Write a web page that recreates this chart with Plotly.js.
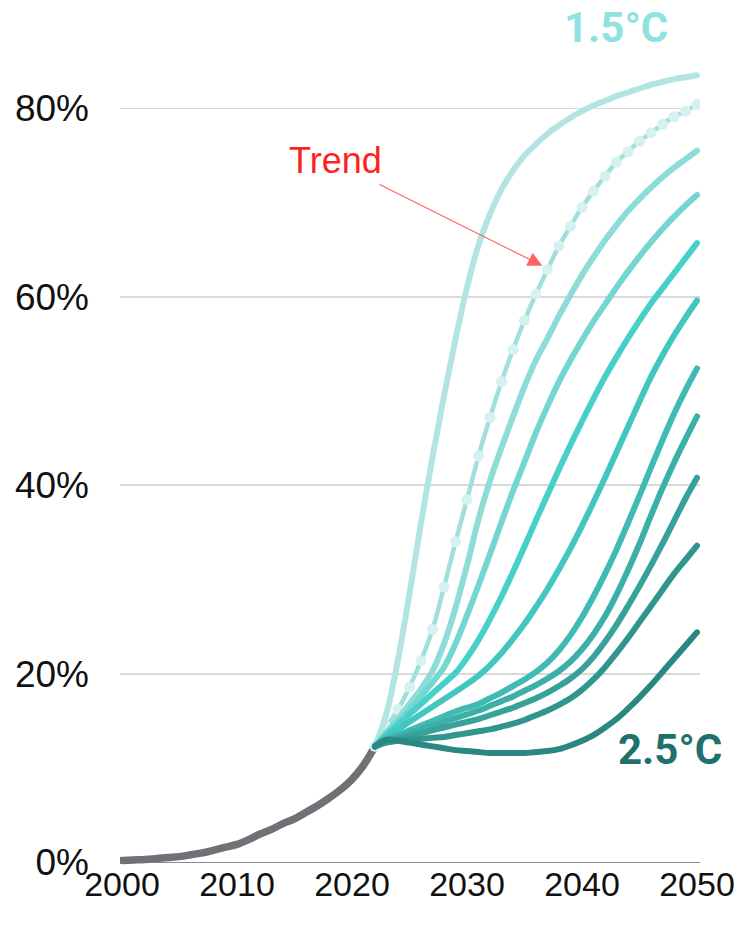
<!DOCTYPE html>
<html>
<head>
<meta charset="utf-8">
<script src="https://cdn.plot.ly/plotly-3.0.1.min.js"></script>
<style>
html,body{margin:0;padding:0;background:#fff;}
#chart{width:738px;height:928px;}
.scatterlayer path.js-line{stroke-linecap:round;stroke-linejoin:round;}
</style>
</head>
<body>
<div id="chart"></div>
<script>
// ---- data ----
const histYears = [2000,2001,2002,2003,2004,2005,2006,2007,2008,2009,2010,2011,2012,2013,2014,2015,2016,2017,2018,2019,2020,2021,2022];
const histValues = [0.2,0.25,0.3,0.4,0.5,0.6,0.8,1.0,1.3,1.6,1.9,2.4,3.0,3.5,4.1,4.6,5.3,6.0,6.8,7.7,8.8,10.3,12.3];

const projYears = [2022,2023,2024,2025,2026,2027,2028,2029,2030,2031,2032,2033,2034,2035,2036,2037,2038,2039,2040,2041,2042,2043,2044,2045,2046,2047,2048,2049,2050];

const trendValues = [12.3,14.4,16.2,18.6,21.4,24.7,29.2,34.0,38.5,43.1,47.2,51.0,54.4,57.5,60.3,62.9,65.4,67.5,69.5,71.2,72.8,74.3,75.4,76.5,77.4,78.3,79.1,79.7,80.4];

const scenario1 = [12.3,15.8,21.5,28.5,36,43,49.5,55.5,61,65.5,68.8,71.4,73.4,75,76.2,77.3,78.2,79,79.7,80.3,80.8,81.3,81.7,82.1,82.5,82.8,83.1,83.3,83.5];
const scenario2 = [12.3,13.8,15.2,16.8,18.4,20.3,23.2,27,31.5,36.4,40.5,44,47.3,50.5,53.3,55.6,58,60.2,62.3,64.2,66,67.6,69.1,70.4,71.6,72.7,73.7,74.6,75.5];
const scenario3 = [12.3,13.6,14.9,16.2,17.6,19.1,20.7,23.2,26.2,29.4,32.7,36.1,39.4,42.5,45.6,48.4,51.0,53.3,55.4,57.4,59.2,61.0,62.7,64.3,65.8,67.2,68.5,69.7,70.8];
const scenario4 = [12.3,13.5,14.6,15.7,16.8,17.9,19.0,20.1,21.7,23.6,25.8,28.2,30.8,33.5,36.3,39.0,41.7,44.3,46.8,49.2,51.5,53.6,55.6,57.5,59.3,60.9,62.5,64.1,65.7];
const scenario5 = [12.3,13.3,14.1,14.9,15.7,16.5,17.3,18.1,18.9,19.8,20.9,22.2,23.7,25.3,27.1,29.0,31.1,33.3,35.7,38.2,40.8,43.5,46.2,48.9,51.5,53.8,55.9,57.8,59.6];
const scenario6 = [12.3,13.0,13.5,14.0,14.5,15.0,15.5,16.0,16.4,16.8,17.4,18.0,18.7,19.4,20.2,21.2,22.5,24.1,26.0,28.2,30.6,33.2,36.0,38.9,41.9,44.8,47.6,50.1,52.4];
const scenario7 = [12.3,12.9,13.3,13.7,14.1,14.5,14.9,15.3,15.7,16.1,16.6,17.1,17.6,18.2,18.8,19.5,20.3,21.3,22.6,24.2,26.1,28.4,31.0,33.8,36.8,39.7,42.4,44.9,47.3];
const scenario8 = [12.3,12.8,13.1,13.4,13.7,14.0,14.3,14.6,14.9,15.2,15.6,16.0,16.4,16.9,17.4,18.0,18.7,19.5,20.5,21.8,23.4,25.2,27.2,29.3,31.5,33.8,36.2,38.6,40.8];
const scenario9 = [12.3,12.7,12.9,13.0,13.1,13.2,13.3,13.5,13.7,13.9,14.1,14.4,14.7,15.1,15.6,16.1,16.7,17.4,18.3,19.4,20.7,22.2,23.8,25.5,27.2,28.9,30.6,32.1,33.6];
const scenario10 = [12.3,13.0,12.9,12.7,12.5,12.3,12.1,11.9,11.8,11.7,11.6,11.6,11.6,11.6,11.7,11.8,12.0,12.4,12.9,13.5,14.3,15.2,16.3,17.5,18.8,20.2,21.6,23.0,24.4];

const yTickValues = [0,20,40,60,80];
const yTickLabels = ['0%','20%','40%','60%','80%'];
const xTickValues = [2000,2010,2020,2030,2040,2050];
const xTickLabels = ['2000','2010','2020','2030','2040','2050'];

// ---- styling ----
const scenarios = [scenario1,scenario2,scenario3,scenario4,scenario5,scenario6,scenario7,scenario8,scenario9,scenario10];
const scenarioColors = ['#b2e5e2','#8ddcd7','#74d6d1','#47d0ca','#43c6bf','#3fbbb4','#3bb0a9','#36a29b','#30958f','#2a8782'];

const traces = [];
traces.push({x:histYears,y:histValues,mode:'lines',line:{color:'#727076',width:7.5,shape:'spline'},hoverinfo:'skip'});
traces.push({x:projYears,y:trendValues,mode:'lines+markers',line:{color:'#a0dfdb',width:4.5,shape:'spline'},
  marker:{color:'#d5f2f0',size:11,opacity:1,line:{width:0}},hoverinfo:'skip'});
scenarios.forEach((s,i)=>{
  traces.push({x:projYears,y:s,mode:'lines',line:{color:scenarioColors[i],width:6,shape:'spline'},hoverinfo:'skip'});
});

const layout = {
  width:738,height:928,
  margin:{l:120,r:38,t:20,b:61},
  paper_bgcolor:'#ffffff',plot_bgcolor:'#ffffff',
  showlegend:false,
  xaxis:{range:[1999.826,2050.26],tickvals:xTickValues,ticktext:xTickLabels,showgrid:false,zeroline:false,
    showline:false,ticks:'',tickfont:{family:'Liberation Sans, Arial',size:34,color:'#111'},ticklabelstandoff:-6},
  yaxis:{range:[-0.5,89.37],tickvals:yTickValues,ticktext:yTickLabels,showgrid:true,gridcolor:'#d9d9d9',gridwidth:1.6,
    zeroline:true,zerolinecolor:'#8c8c8c',zerolinewidth:1.5,showline:false,ticks:'',
    tickfont:{family:'Liberation Sans, Arial',size:37,color:'#111'},ticklabelstandoff:30},
  annotations:[
    {x:2042.96,y:88.6,xref:'x',yref:'y',text:'<b>1.5°C</b>',showarrow:false,xanchor:'center',yanchor:'middle',
      font:{family:'Roboto',size:42,color:'#8fe2dd'}},
    {x:2047.65,y:12.0,xref:'x',yref:'y',text:'<b>2.5°C</b>',showarrow:false,xanchor:'center',yanchor:'middle',
      font:{family:'Roboto',size:42,color:'#1f716c'}},
    {x:2018.6,y:74.5,xref:'x',yref:'y',text:'Trend',showarrow:false,xanchor:'center',yanchor:'middle',
      font:{family:'Liberation Sans, Arial',size:36,color:'#ff1f1f'}},
    {x:2036.55,y:63.3,xref:'x',yref:'y',ax:2022.26,ay:72.0,axref:'x',ayref:'y',text:'',showarrow:true,
      arrowhead:2,arrowsize:2.4,arrowwidth:1.2,arrowcolor:'#ff6363',standoff:0,startstandoff:0}
  ]
};

Plotly.newPlot('chart',traces,layout,{staticPlot:true,displayModeBar:false});
</script>
</body>
</html>
